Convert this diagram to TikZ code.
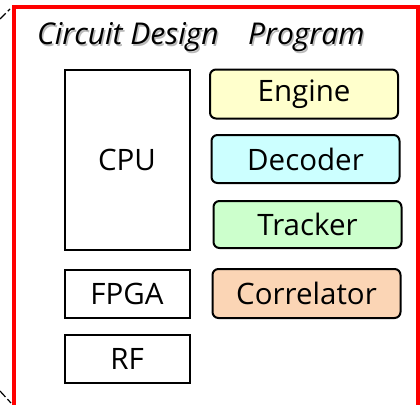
\documentclass[tikz,border=0pt]{standalone}
\usepackage{fontspec}
\setmainfont{Open Sans}
\begin{document}
\begin{tikzpicture}[x=1pt,y=-1pt,
  blockbox/.style={draw=black,line width=2pt,inner sep=0pt,font=\fontsize{29.5}{34}\selectfont},
  progbox/.style={blockbox,rounded corners=6pt},
  heading/.style={font=\fontsize{30}{36}\selectfont\itshape,anchor=base west,inner sep=0pt},
  headshadow/.style={heading,text=black!45,opacity=0.6}]
\useasboundingbox (0,0) rectangle (420,404);
\definecolor{engfill}{HTML}{FFFFCC}
\definecolor{decfill}{HTML}{CCFFFF}
\definecolor{trkfill}{HTML}{CCFFCC}
\definecolor{corfill}{HTML}{FBD5B5}

% outer red frame, running off the bottom edge
\draw[red,line width=3.5pt] (14,412) -- (14,7) -- (418,7) -- (418,412);

% small corner ticks on the left
\coordinate (tlA) at (0,19);
\coordinate (tlB) at (10,9);
\coordinate (blA) at (0,391);
\coordinate (blB) at (11,403);
\draw[line width=1.2pt,dash pattern=on 8pt off 3pt] (tlA) -- (tlB);
\draw[line width=1.2pt,dash pattern=on 8pt off 3pt] (blA) -- (blB);

% headings with a soft drop shadow
\node[headshadow] (h1s) at (38.5,46.5) {Circuit Design};
\node[headshadow] (h2s) at (249.5,46.5) {Program};
\node[heading] (h1) at (37,45) {Circuit Design};
\node[heading] (h2) at (248,45) {Program};

% hardware column
\node[blockbox,minimum width=125pt,minimum height=180pt] (cpu) at (127,160) {CPU};
\node[blockbox,minimum width=125pt,minimum height=48pt] (fpga) at (127,294) {\raisebox{-2pt}{FPGA}};
\node[blockbox,minimum width=125pt,minimum height=48pt] (rf) at (127,359) {\raisebox{-2pt}{RF}};

% program column
\node[progbox,fill=engfill,minimum width=188pt,minimum height=49pt] (engine) at (304,94) {\raisebox{-2pt}{Engine}};
\node[progbox,fill=decfill,minimum width=188pt,minimum height=48pt] (decoder) at (305.5,159) {\raisebox{-2pt}{Decoder}};
\node[progbox,fill=trkfill,minimum width=188pt,minimum height=47pt] (tracker) at (307.5,224.5) {\raisebox{-2pt}{Tracker}};
\node[progbox,fill=corfill,minimum width=188pt,minimum height=49pt] (correlator) at (306.5,293.5) {\raisebox{-2pt}{Correlator}};
\end{tikzpicture}
\end{document}
